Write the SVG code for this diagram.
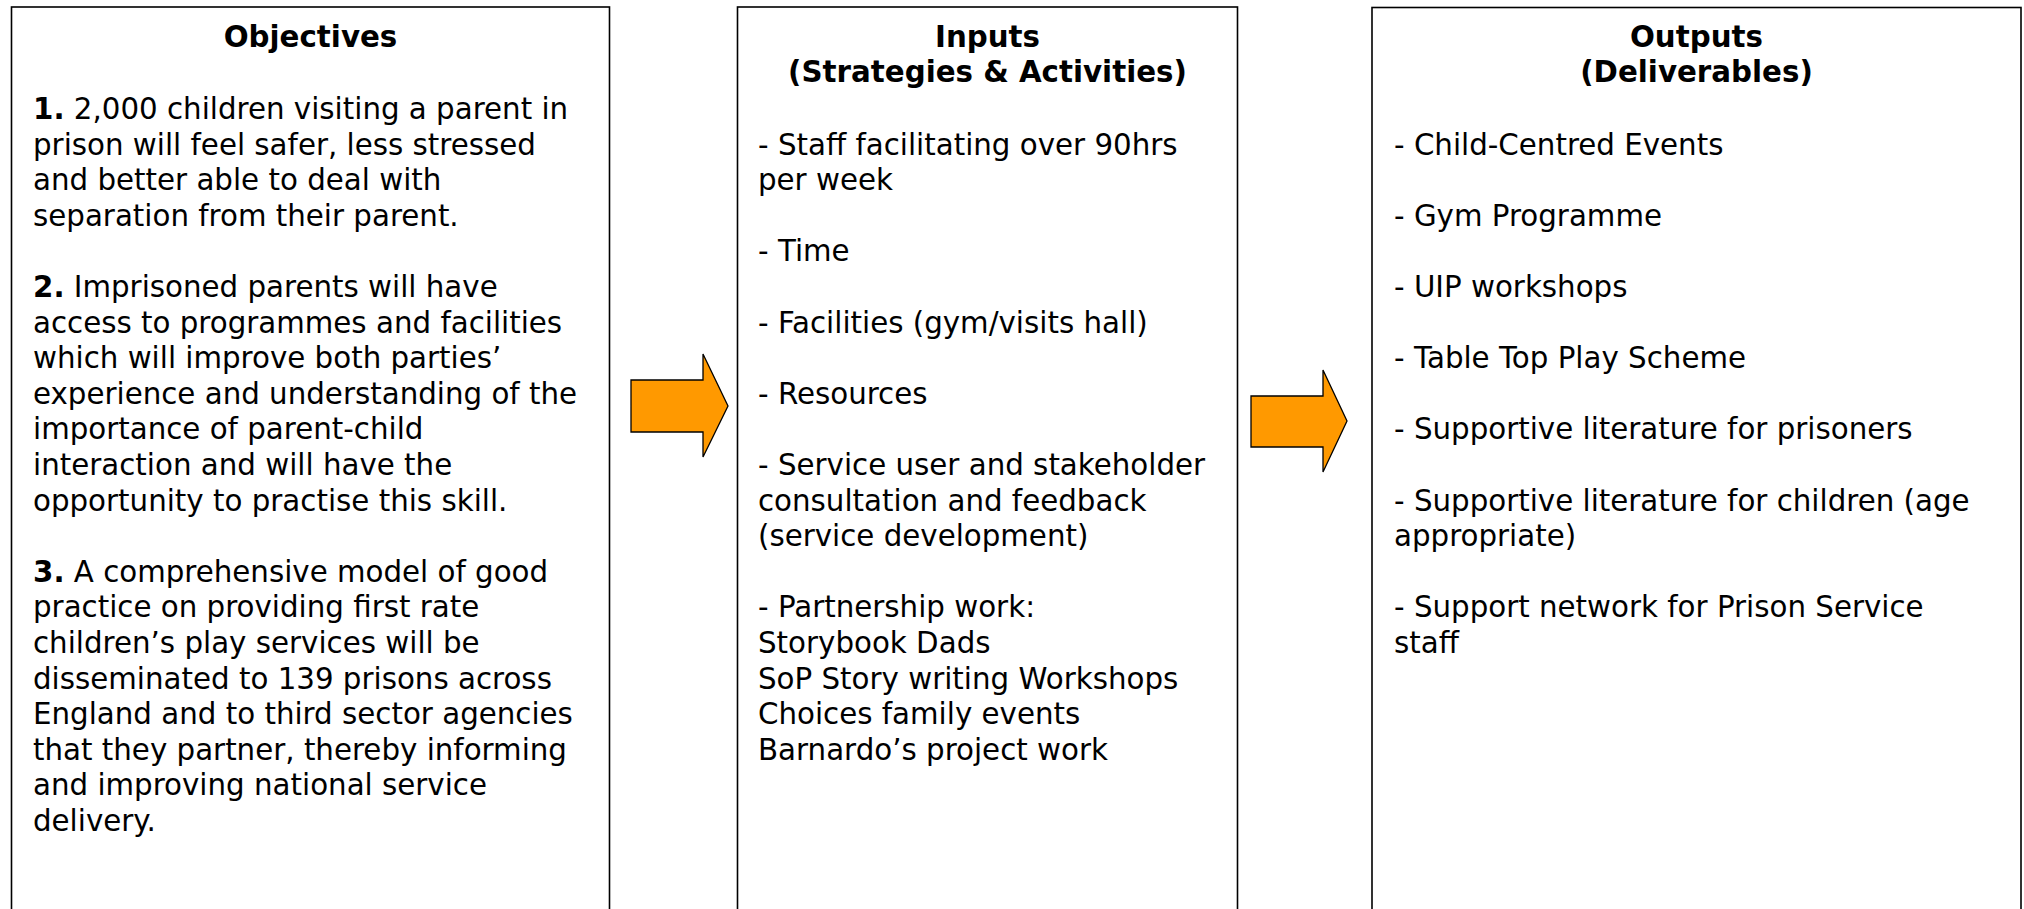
<svg xmlns="http://www.w3.org/2000/svg" width="2024" height="909" viewBox="0 0 2024 909">
<style>
.box{fill:#fff;stroke:#000;stroke-width:1.6}
.t{font-family:"DejaVu Sans","Verdana",sans-serif;font-size:29.3px;fill:#000}
.h{font-weight:bold;text-anchor:middle}
.b{font-weight:bold}
.arr{fill:#FF9900;stroke:#000;stroke-width:1.3;stroke-linejoin:miter}
</style>
<rect width="2024" height="909" fill="#fff"/>
<g id="objectives">
<rect class="box" x="11.5" y="7" width="598" height="930"/>
<text class="t h" x="310.5" y="46.7">Objectives</text>
<text class="t" x="33" y="119"><tspan class="b">1.</tspan> 2,000 children visiting a parent in</text>
<text class="t" x="33" y="154.6">prison will feel safer, less stressed</text>
<text class="t" x="33" y="190.2">and better able to deal with</text>
<text class="t" x="33" y="225.8">separation from their parent.</text>
<text class="t" x="33" y="297"><tspan class="b">2.</tspan> Imprisoned parents will have</text>
<text class="t" x="33" y="332.6">access to programmes and facilities</text>
<text class="t" x="33" y="368.2">which will improve both parties’</text>
<text class="t" x="33" y="403.8">experience and understanding of the</text>
<text class="t" x="33" y="439.4">importance of parent-child</text>
<text class="t" x="33" y="475">interaction and will have the</text>
<text class="t" x="33" y="510.6">opportunity to practise this skill.</text>
<text class="t" x="33" y="581.8"><tspan class="b">3.</tspan> A comprehensive model of good</text>
<text class="t" x="33" y="617.4">practice on providing first rate</text>
<text class="t" x="33" y="653">children’s play services will be</text>
<text class="t" x="33" y="688.6">disseminated to 139 prisons across</text>
<text class="t" x="33" y="724.2">England and to third sector agencies</text>
<text class="t" x="33" y="759.8">that they partner, thereby informing</text>
<text class="t" x="33" y="795.4">and improving national service</text>
<text class="t" x="33" y="831">delivery.</text>
</g>
<g id="inputs">
<rect class="box" x="737.5" y="7" width="500" height="930"/>
<text class="t h" x="987.5" y="46.7">Inputs</text>
<text class="t h" x="987.5" y="82.3">(Strategies &amp; Activities)</text>
<text class="t" x="758" y="154.6">- Staff facilitating over 90hrs</text>
<text class="t" x="758" y="190.2">per week</text>
<text class="t" x="758" y="261.4">- Time</text>
<text class="t" x="758" y="332.6">- Facilities (gym/visits hall)</text>
<text class="t" x="758" y="403.8">- Resources</text>
<text class="t" x="758" y="475">- Service user and stakeholder</text>
<text class="t" x="758" y="510.6">consultation and feedback</text>
<text class="t" x="758" y="546.2">(service development)</text>
<text class="t" x="758" y="617.4">- Partnership work:</text>
<text class="t" x="758" y="653">Storybook Dads</text>
<text class="t" x="758" y="688.6">SoP Story writing Workshops</text>
<text class="t" x="758" y="724.2">Choices family events</text>
<text class="t" x="758" y="759.8">Barnardo’s project work</text>
</g>
<g id="outputs">
<rect class="box" x="1372" y="7.5" width="649" height="930"/>
<text class="t h" x="1696.5" y="46.7">Outputs</text>
<text class="t h" x="1696.5" y="82.3">(Deliverables)</text>
<text class="t" x="1394" y="154.6">- Child-Centred Events</text>
<text class="t" x="1394" y="225.8">- Gym Programme</text>
<text class="t" x="1394" y="297">- UIP workshops</text>
<text class="t" x="1394" y="368.2">- Table Top Play Scheme</text>
<text class="t" x="1394" y="439.4">- Supportive literature for prisoners</text>
<text class="t" x="1394" y="510.6">- Supportive literature for children (age</text>
<text class="t" x="1394" y="546.2">appropriate)</text>
<text class="t" x="1394" y="617.4">- Support network for Prison Service</text>
<text class="t" x="1394" y="653">staff</text>
</g>
<g id="connectors">
<polygon class="arr" points="631,380 703,380 703,354 728,406 703,457 703,432 631,432"/>
<polygon class="arr" points="1251,396 1323,396 1323,370 1347,421 1323,472 1323,447 1251,447"/>
</g>
</svg>
